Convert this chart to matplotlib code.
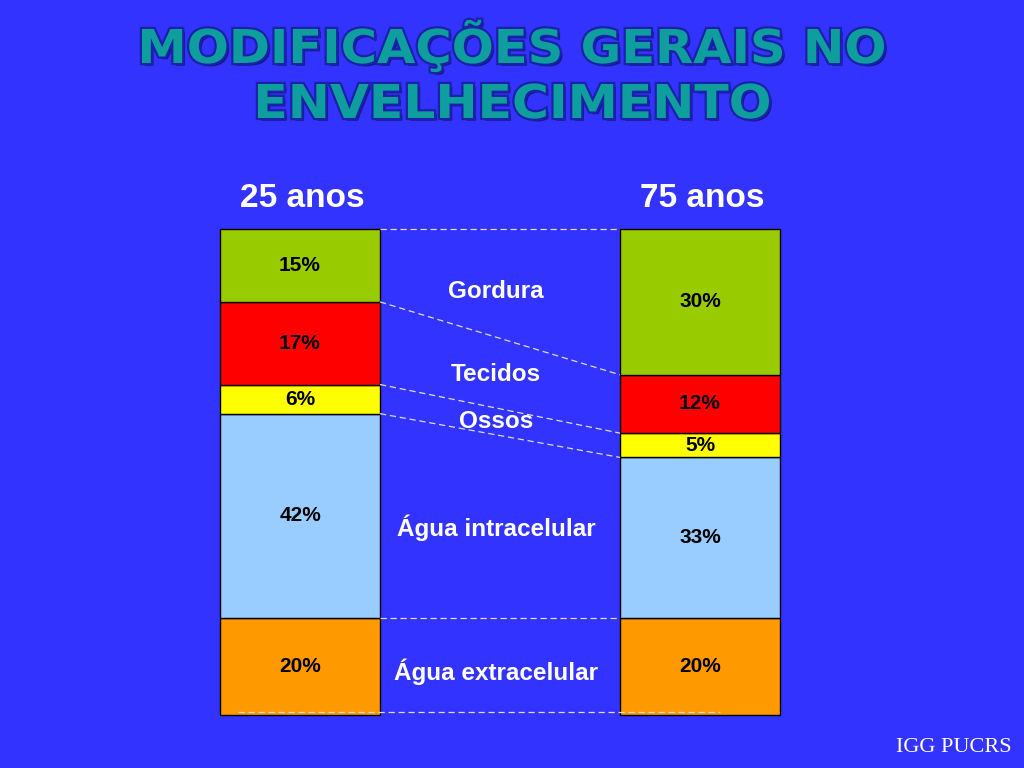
import matplotlib
matplotlib.use("Agg")
import matplotlib.pyplot as plt
import matplotlib.patheffects as pe
from matplotlib.textpath import TextPath
from matplotlib.font_manager import FontProperties
from matplotlib.patches import PathPatch
from matplotlib.transforms import Affine2D, IdentityTransform
import numpy as np

# ---- data ----
groups = ["25 anos", "75 anos"]
components = ["Gordura", "Tecidos", "Ossos", "Água intracelular", "Água extracelular"]  # top -> bottom
values_25 = [15, 17, 6, 42, 20]
values_75 = [30, 12, 5, 33, 20]
colors = ["#99CC00", "#FF0000", "#FFFF00", "#99CCFF", "#FF9900"]
label_y = [87.2, 70.0, 60.3, 38.5, 8.8]
title_lines = ["MODIFICAÇÕES GERAIS NO", "ENVELHECIMENTO"]
credit = "IGG PUCRS"

BG = "#3333FF"
W, H = 1024, 768
fig = plt.figure(figsize=(W / 100, H / 100), dpi=100, facecolor=BG)

# axes mapped so bars span pixel 220..780 horizontally and 229..715 vertically
ax = fig.add_axes([220 / W, (H - 715) / H, 560 / W, 486 / H])
ax.set_facecolor("none")
ax.set_xlim(-0.2, 1.2)
ax.set_ylim(0, 100)
ax.axis("off")

x = np.arange(len(groups))
width = 0.4
series = [values_25, values_75]

# stack from bottom (reverse order)
cum_tops = []
for gi, vals in enumerate(series):
    bottom = 0
    tops = {}
    for ci in reversed(range(len(components))):
        v = vals[ci]
        ax.bar(x[gi], v, width=width, bottom=bottom, color=colors[ci],
               edgecolor="black", linewidth=1.0, zorder=2, clip_on=False)
        ax.text(x[gi], bottom + v / 2, f"{v}%", ha="center", va="center",
                fontsize=15, fontweight="bold", color="black",
                family="Liberation Sans", zorder=4)
        bottom += v
        tops[ci] = bottom
    cum_tops.append(tops)

# dashed connector lines between boundaries
dash_kw = dict(color="#DDDDDD", linewidth=0.9, linestyle=(0, (5, 3)), zorder=3,
               clip_on=False)
for ci in range(len(components) - 1):
    yl = cum_tops[0][ci]
    yr = cum_tops[1][ci]
    ax.plot([x[0] + width / 2, x[1] - width / 2], [yl, yr], **dash_kw)
ax.plot([x[0] + width / 2, x[1] - width / 2], [20, 20], **dash_kw)
ax.plot([x[0] - 0.155, x[1] + 0.05], [0.7, 0.7], **dash_kw)

# component labels in the middle
for ci, name in enumerate(components):
    ax.text(0.49, label_y[ci], name, ha="center", va="center", fontsize=17.5,
            fontweight="bold", color="white", family="Liberation Sans", zorder=4)

# group headers
for gi, g in enumerate(groups):
    ax.text(x[gi] + 0.005, 106.3, g, ha="center", va="center", fontsize=24,
            fontweight="bold", color="white", family="Liberation Sans",
            clip_on=False)

# title drawn as stretched text paths (wide, letter-spaced look)
prop = FontProperties(family="DejaVu Sans", weight="bold")
cap_px = 34.0
sy = cap_px / 0.729
targets = [(142, 884, H - 63), (258, 769, H - 118)]  # x0, x1, baseline (display px)
title_fx = [pe.withSimplePatchShadow(offset=(2, -2), shadow_rgbFace="#000033", alpha=0.55),
            pe.withStroke(linewidth=3.2, foreground="#1A22A8")]
for line, (x0, x1, base) in zip(title_lines, targets):
    tp = TextPath((0, 0), line, size=1, prop=prop)
    ext = tp.get_extents()
    sx = (x1 - x0) / ext.width
    tr = Affine2D().translate(-ext.x0, 0).scale(sx, sy).translate(x0, base)
    patch = PathPatch(tr.transform_path(tp), facecolor="#0E9E9E", edgecolor="none",
                      transform=IdentityTransform(), path_effects=title_fx)
    fig.add_artist(patch)

fig.text(1012 / W, 1 - 748 / H, credit, ha="right", va="center", fontsize=16,
         color="white", family="Liberation Serif")

fig.savefig("out.png", dpi=100, facecolor=BG)
